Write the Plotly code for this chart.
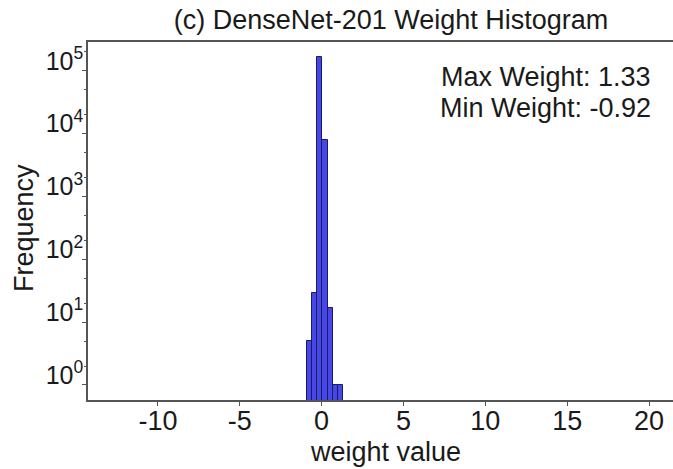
import plotly.graph_objects as go

# Data
min_weight = -0.92
max_weight = 1.33
n_bins = 7
counts = [5, 29, 167000, 7900, 17, 1, 1]

title_text = "(c) DenseNet-201 Weight Histogram"
x_label = "weight value"
y_label = "Frequency"
x_tickvals = [-10, -5, 0, 5, 10, 15, 20]
y_tickvals = [1, 10, 100, 1000, 10000, 100000]
y_ticktext = ["10<sup>%d</sup>" % i for i in range(6)]

bin_w = (max_weight - min_weight) / n_bins
centers = [min_weight + bin_w * (i + 0.5) for i in range(n_bins)]

FONT = "Liberation Sans, Arial, Helvetica, sans-serif"
TXT = "#1a1a1a"
AX = "#555555"
FS = 27

fig = go.Figure()
fig.add_trace(go.Bar(
    x=centers, y=counts, width=bin_w,
    marker=dict(color="rgba(25,25,225,0.8)",
                line=dict(color="#1a1a60", width=1)),
    hoverinfo="skip",
))

fig.update_layout(
    width=673, height=469,
    margin=dict(l=88, r=0, t=42, b=69),
    paper_bgcolor="white", plot_bgcolor="white",
    showlegend=False,
    bargap=0,
    font=dict(family=FONT, size=FS, color=TXT),
    title=dict(text=title_text, x=391 / 673, xref="container", xanchor="center",
               y=1 - 20 / 469, yref="container", yanchor="middle",
               font=dict(size=FS, family=FONT, color=TXT)),
    xaxis=dict(
        range=[-14.27, 21.46], tickvals=x_tickvals,
        ticktext=[str(v) for v in x_tickvals],
        showgrid=False, zeroline=False,
        showline=True, linecolor=AX, linewidth=1.5, mirror=True,
        ticks="outside", ticklen=4, tickcolor=AX,
        tickfont=dict(size=FS),
        ticklabelstandoff=-8,
    ),
    yaxis=dict(
        type="log", range=[-0.239, 5.46],
        tickvals=y_tickvals, ticktext=y_ticktext,
        showgrid=False, zeroline=False,
        showline=True, linecolor=AX, linewidth=1.5,
        ticks="outside", ticklen=4, tickcolor=AX,
        minor=dict(ticks="outside", ticklen=2, tickcolor=AX, showgrid=False),
        tickfont=dict(size=25),
        ticklabelshift=-10,
        ticklabelstandoff=-6,
    ),
)

# axis titles as annotations for exact placement
fig.add_annotation(
    text=x_label, xref="paper", yref="paper",
    x=(385 - 88) / 585, y=(400 - 452) / 358,
    xanchor="center", yanchor="middle", showarrow=False,
    font=dict(size=FS, family=FONT, color=TXT),
)
fig.add_annotation(
    text=y_label, xref="paper", yref="paper", textangle=-90,
    x=(24 - 88) / 585, y=(400 - 228) / 358,
    xanchor="center", yanchor="middle", showarrow=False,
    font=dict(size=FS, family=FONT, color=TXT),
)

fig.add_annotation(
    text="Max Weight: %.2f" % max_weight,
    xref="paper", yref="paper", x=(653 - 88) / 585, y=(400 - 77) / 358,
    xanchor="right", yanchor="middle", showarrow=False,
    font=dict(size=FS, family=FONT, color=TXT),
)
fig.add_annotation(
    text="Min Weight: %.2f" % min_weight,
    xref="paper", yref="paper", x=(653 - 88) / 585, y=(400 - 108) / 358,
    xanchor="right", yanchor="middle", showarrow=False,
    font=dict(size=FS, family=FONT, color=TXT),
)

fig.write_html(
    "out.html",
    config={"displayModeBar": False},
    post_script="document.body.style.margin='0';document.body.style.padding='0';",
)
